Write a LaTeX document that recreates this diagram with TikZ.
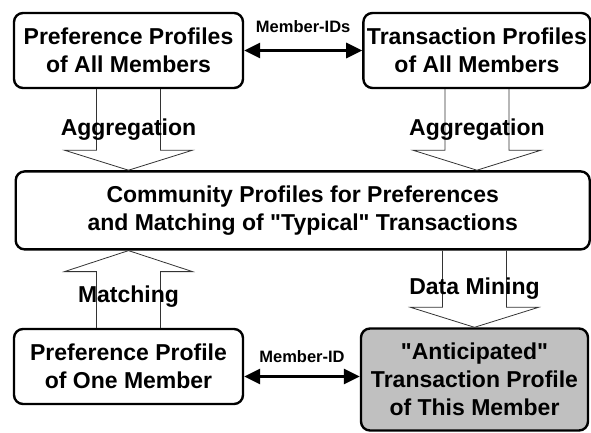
\documentclass[tikz,border=0pt]{standalone}
\usepackage{fontspec}
\setmainfont{Liberation Sans}[Ligatures=TeXOff]
\usetikzlibrary{arrows.meta,positioning,calc}
\definecolor{anticgray}{RGB}{192,192,192}

\begin{document}
\begin{tikzpicture}[
  x=1pt,y=-1pt,
  box/.style={draw,line width=2.4pt,rounded corners=9pt,align=center,
    minimum width=229pt,minimum height=75pt,inner sep=0pt,
    font=\fontsize{23}{28}\selectfont\bfseries},
  tag/.style={inner sep=0pt,font=\fontsize{23}{28}\selectfont\bfseries},
  lbl/.style={inner sep=0pt,font=\fontsize{16.5}{19}\selectfont\bfseries},
  idarr/.style={{Triangle[length=16pt,width=15pt]}-{Triangle[length=16pt,width=15pt]},line width=3pt},
  blk/.style={draw=black!80,line width=0.8pt}
]
\useasboundingbox (0,0) rectangle (591,432);
\node[box] (pref) at (128.5,50.5) {Preference Profiles\\of All Members};
\node[box,minimum width=227pt,right=118pt of pref] (trans) {Transaction Profiles\\of All Members};
\coordinate (top) at ($(pref.south)!.5!(trans.south)$);
\node[box,minimum width=574pt,minimum height=78pt,below=81pt of top] (cmty)
  {Community Profiles for Preferences\\and Matching of "Typical" Transactions};
\node[box] (one) at (128.5,366.5) {Preference Profile\\of One Member};
\node[box,fill=anticgray,minimum width=227pt,minimum height=102pt] (anti) at (474.5,379.5)
  {"Anticipated"\\Transaction Profile\\of This Member};

% member ids
\draw[idarr] (pref) -- node[lbl,above=16pt] (ids) {Member-IDs} (trans);
\draw[idarr] ([yshift=-10pt]one.east) -- node[lbl,above=12pt] (id) {Member-ID}
  ([yshift=-10pt]one.east -| anti.west);

% hollow block arrows
\draw[blk] let \p1=(pref.south), \p2=(cmty.north) in
  (\x1-32pt,\y1) -- (\x1-32pt,\y2+20pt) -- (\x1-64pt,\y2+20pt) -- (\x1,\y2)
  -- (\x1+64pt,\y2+20pt) -- (\x1+32pt,\y2+20pt) -- (\x1+32pt,\y1);
\draw[blk] let \p1=(trans.south), \p2=(cmty.north) in
  (\x1-32pt,\y1) -- (\x1-32pt,\y2+20pt) -- (\x1-64pt,\y2+20pt) -- (\x1,\y2)
  -- (\x1+64pt,\y2+20pt) -- (\x1+32pt,\y2+20pt) -- (\x1+32pt,\y1);
\draw[blk] let \p1=(one.north), \p2=(cmty.south) in
  (\x1-32pt,\y1) -- (\x1-32pt,\y2-21pt) -- (\x1-64pt,\y2-21pt) -- (\x1,\y2)
  -- (\x1+64pt,\y2-21pt) -- (\x1+32pt,\y2-21pt) -- (\x1+32pt,\y1);
\draw[blk] let \p1=(cmty.south -| anti.north), \p2=(anti.north) in
  (\x1-32pt,\y1) -- (\x1-32pt,\y2+20pt) -- (\x1-64pt,\y2+20pt) -- (\x1,\y2)
  -- (\x1+64pt,\y2+20pt) -- (\x1+32pt,\y2+20pt) -- (\x1+32pt,\y1);

\node[tag] (agg1) at ($(pref.south)!.5!(pref.south |- cmty.north)$) {Aggregation};
\node[tag] (agg2) at ($(trans.south)!.5!(trans.south |- cmty.north)$) {Aggregation};
\node[tag] (match) at ($(one.north)!.4!(one.north |- cmty.south)$) {Matching};
\node[tag] (mining) at ($(cmty.south -| anti.north)!.5!(anti.north)$) {Data Mining};
\end{tikzpicture}
\end{document}
